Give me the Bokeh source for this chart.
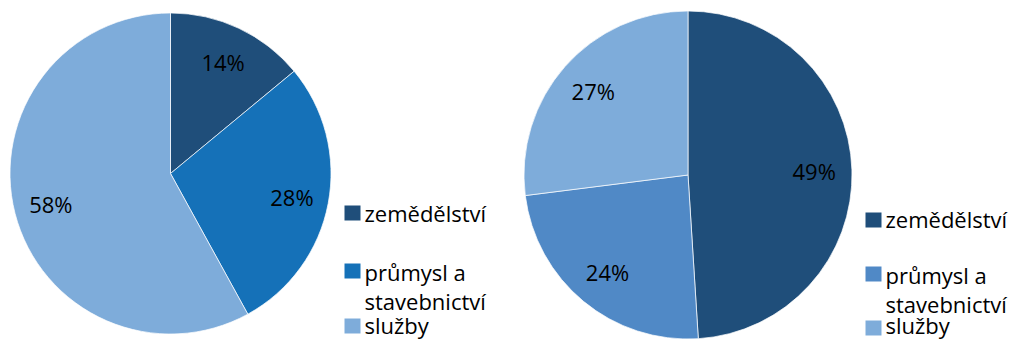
import math
from bokeh.plotting import figure
from bokeh.models import Range1d
from bokeh.core.properties import value
from bokeh.embed import file_html
from bokeh.resources import INLINE

# Sector labels (Czech) and shares in percent for the two periods
categories = ["zemědělství", "průmysl a\nstavebnictví", "služby"]
shares_left = [14, 28, 58]
shares_right = [49, 24, 27]

colors_left = ["#1F4E7A", "#1571B8", "#7EACDA"]
colors_right = ["#1F4E7A", "#5089C6", "#7EACDA"]

W, H = 1011, 339
FONT = "Open Sans"
LINE_GAP = 29

p = figure(width=W, height=H, output_backend="svg", toolbar_location=None,
           x_range=Range1d(0, W), y_range=Range1d(0, H),
           min_border=0, outline_line_color=None)
p.axis.visible = False
p.grid.visible = False
p.background_fill_color = "white"
p.border_fill_color = "white"


def pie(cx, cy, r, shares, colors, legend_x, legend_rows):
    total = float(sum(shares))
    start = math.pi / 2
    for share, col in zip(shares, colors):
        sweep = 2 * math.pi * share / total
        end = start - sweep
        p.wedge(x=cx, y=H - cy, radius=r, start_angle=end, end_angle=start,
                fill_color=col, line_color="white", line_width=0.7)
        mid = (start + end) / 2
        lr = 0.77 * r
        p.text(x=[cx + lr * math.cos(mid)], y=[H - cy + lr * math.sin(mid)],
               text=[f"{share}%"], text_font=value(FONT), text_font_size="22px",
               text_color="#000000", text_align="center", text_baseline="middle")
        start = end

    # legend: coloured square + label (wrapped labels get a second line)
    for (sq_top, mid_y), cat, col in zip(legend_rows, categories, colors):
        p.rect(x=legend_x + 8, y=H - (sq_top + 7.5), width=16, height=15,
               fill_color=col, line_color=None)
        for i, line in enumerate(cat.split("\n")):
            p.text(x=[legend_x + 20], y=[H - (mid_y + LINE_GAP * i)], text=[line],
                   text_font=value(FONT), text_font_size="22px",
                   text_color="#000000", text_align="left",
                   text_baseline="middle")


pie(170, 173, 160.5, shares_left, colors_left, 344,
    [(205, 212), (263, 271), (318, 324)])
pie(687.5, 174.5, 164, shares_right, colors_right, 865,
    [(212, 218), (266, 274), (320, 324)])

open("out.html", "w").write(file_html(p, INLINE))
